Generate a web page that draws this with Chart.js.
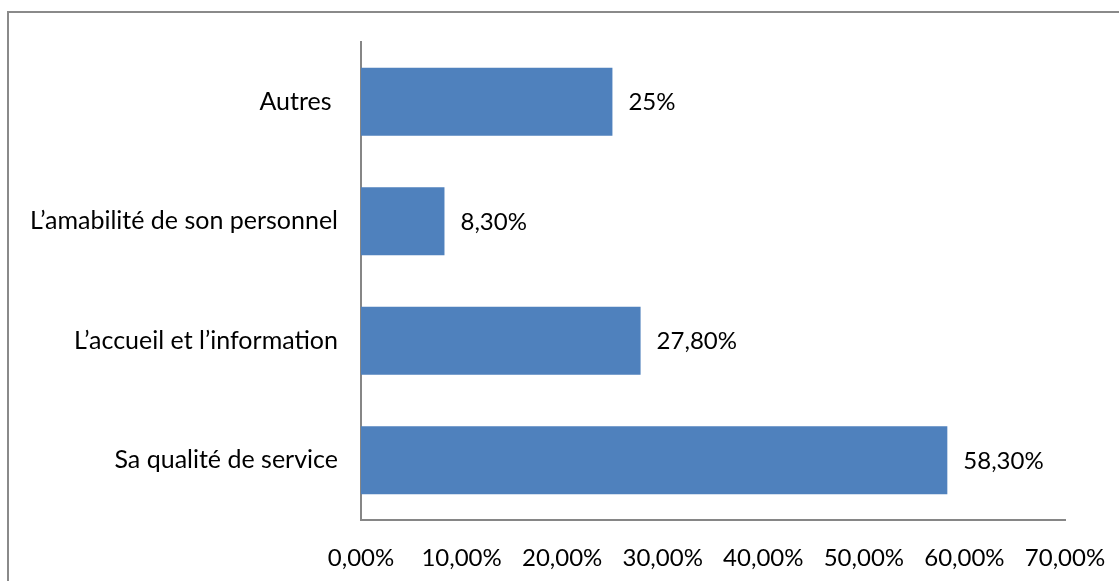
<!DOCTYPE html>
<html>
<head>
<meta charset="utf-8">
<script src="https://cdn.jsdelivr.net/npm/chart.js@4/dist/chart.umd.min.js"></script>
<style>
  html, body { margin: 0; padding: 0; background: #fff; overflow: hidden; }
  #wrap { position: relative; width: 1119px; height: 581px; }
  #frame { position: absolute; left: 7px; top: 11px; width: 2000px; height: 2000px;
           border: 2px solid #8a8a8a; box-sizing: border-box; pointer-events: none; }
  canvas { position: absolute; left: 0; top: 0; }
</style>
</head>
<body>
<div id="wrap">
  <div id="frame"></div>
  <canvas id="c" width="1119" height="581"></canvas>
</div>
<script>
// Reasons cited, top to bottom
const categories = ["Autres ", "L’amabilité de son personnel", "L’accueil et l’information", "Sa qualité de service"];
const values = [25, 8.3, 27.8, 58.3];
const valueLabels = ["25%", "8,30%", "27,80%", "58,30%"];
const axisMin = 0;
const axisMax = 70;
const axisStep = 10;

const FONT = "Lato";
const NUM_SIZE = 24;
const CAT_SIZE = 25;

// Writes each bar's value just past its end
const barValueLabels = {
  id: 'barValueLabels',
  afterDatasetsDraw(chart) {
    const ctx = chart.ctx;
    const meta = chart.getDatasetMeta(0);
    ctx.save();
    ctx.font = NUM_SIZE + "px " + FONT;
    ctx.fillStyle = "#000";
    ctx.textAlign = "left";
    ctx.textBaseline = "middle";
    meta.data.forEach((bar, i) => {
      ctx.fillText(valueLabels[i], bar.x + 16, bar.y + 1);
    });
    ctx.restore();
  }
};

new Chart(document.getElementById('c'), {
  type: 'bar',
  data: {
    labels: categories,
    datasets: [{
      data: values,
      backgroundColor: '#4F81BD',
      borderWidth: 0,
      categoryPercentage: 1,
      barPercentage: 0.571
    }]
  },
  options: {
    indexAxis: 'y',
    responsive: false,
    animation: false,
    layout: { padding: { top: 42, right: 54, left: 0, bottom: 0 } },
    plugins: { legend: { display: false }, tooltip: { enabled: false } },
    scales: {
      x: {
        min: axisMin,
        max: axisMax,
        grid: { display: false, drawTicks: false },
        border: { display: true, color: '#868686', width: 2 },
        ticks: {
          stepSize: axisStep,
          color: '#000',
          font: { family: FONT, size: NUM_SIZE },
          padding: 24,
          maxRotation: 0,
          callback: v => v.toFixed(2).replace('.', ',') + '%'
        },
        afterFit(scale) {
          scale.height = 61;
          scale.paddingLeft = 0;
          scale.paddingRight = 0;
        }
      },
      y: {
        grid: { display: false, drawTicks: false },
        border: { display: true, color: '#868686', width: 2 },
        ticks: {
          color: '#000',
          font: { family: FONT, size: CAT_SIZE },
          padding: 23
        },
        afterFit(scale) { scale.width = 361; }
      }
    }
  },
  plugins: [barValueLabels]
});
</script>
</body>
</html>
